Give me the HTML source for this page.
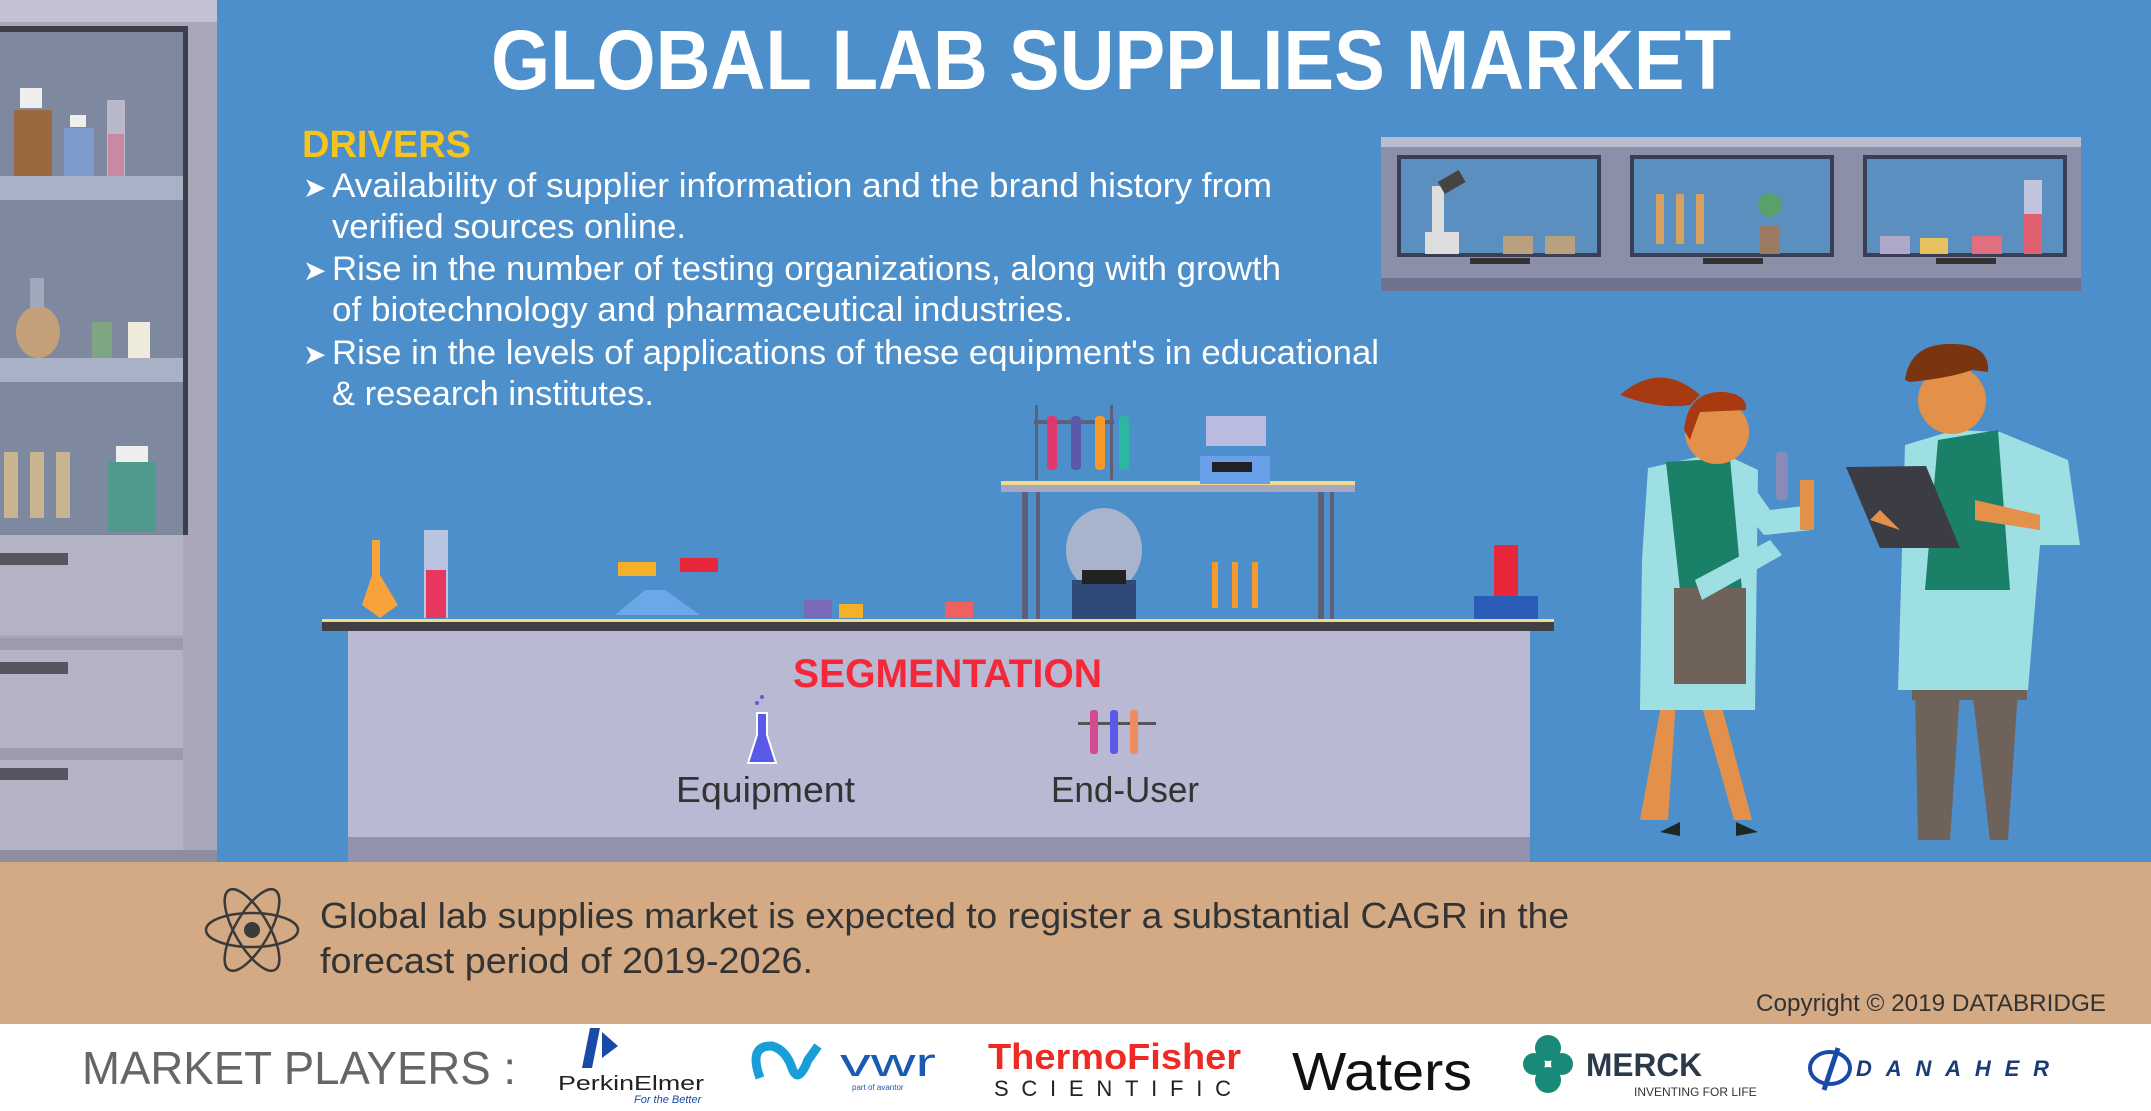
<!DOCTYPE html>
<html><head><meta charset="utf-8"><style>
html,body{margin:0;padding:0;width:2151px;height:1111px;overflow:hidden;background:#fff}
svg{display:block}
text{font-family:"Liberation Sans",sans-serif}
</style></head><body>
<svg width="2151" height="1111" viewBox="0 0 2151 1111" xmlns="http://www.w3.org/2000/svg">
<!-- background -->
<rect x="0" y="0" width="2151" height="862" fill="#4d8fcb"/>
<rect x="0" y="862" width="2151" height="162" fill="#d3aa84"/>
<rect x="0" y="1024" width="2151" height="87" fill="#ffffff"/>

<!-- cabinet -->
<rect x="0" y="0" width="217" height="862" fill="#a9a8bb"/>
<rect x="0" y="0" width="217" height="22" fill="#c3c2d2"/>
<rect x="0" y="26" width="188" height="6" fill="#3e3e48"/>
<rect x="0" y="32" width="183" height="503" fill="#7e889e"/>
<rect x="183" y="32" width="5" height="503" fill="#3e3e48"/>
<rect x="0" y="176" width="183" height="24" fill="#a8b1c6"/>
<rect x="0" y="358" width="183" height="24" fill="#a8b1c6"/>
<rect x="14" y="110" width="38" height="66" fill="#9a6a3e"/><rect x="20" y="88" width="22" height="20" fill="#eee"/>
<rect x="64" y="128" width="30" height="48" fill="#7d9ccc"/><rect x="70" y="115" width="16" height="12" fill="#eee"/>
<rect x="107" y="100" width="18" height="76" fill="#b8b8c8"/><rect x="108" y="134" width="16" height="42" fill="#c78aa0"/>
<ellipse cx="38" cy="332" rx="22" ry="26" fill="#c4a07a"/><rect x="30" y="278" width="14" height="30" fill="#a0a8bc"/>
<rect x="92" y="322" width="20" height="36" fill="#7fa583"/><rect x="128" y="322" width="22" height="36" fill="#eeeadc"/>
<rect x="4" y="452" width="14" height="66" fill="#c8b490"/><rect x="30" y="452" width="14" height="66" fill="#c8b490"/><rect x="56" y="452" width="14" height="66" fill="#c8b490"/>
<rect x="108" y="462" width="48" height="70" fill="#4f9a8c"/><rect x="116" y="446" width="32" height="16" fill="#eee"/>
<rect x="0" y="535" width="183" height="100" fill="#b4b3c4"/>
<rect x="0" y="638" width="183" height="12" fill="#9b9aae"/>
<rect x="0" y="650" width="183" height="98" fill="#b4b3c4"/>
<rect x="0" y="748" width="183" height="12" fill="#9b9aae"/>
<rect x="0" y="760" width="183" height="100" fill="#b4b3c4"/>
<rect x="0" y="553" width="68" height="12" fill="#55555f"/>
<rect x="0" y="662" width="68" height="12" fill="#55555f"/>
<rect x="0" y="768" width="68" height="12" fill="#55555f"/>
<rect x="0" y="850" width="217" height="12" fill="#8e8ea0"/>

<!-- title & drivers -->
<text x="491" y="89" font-size="84" font-weight="bold" fill="#fff" textLength="1240" lengthAdjust="spacingAndGlyphs">GLOBAL LAB SUPPLIES MARKET</text>
<text x="302" y="157" font-size="38" font-weight="bold" fill="#f7c31d" textLength="169" lengthAdjust="spacingAndGlyphs">DRIVERS</text>
<g fill="#fff" font-size="34">
<text x="303" y="197" font-size="28">&#10148;</text>
<text x="332" y="197" textLength="940" lengthAdjust="spacingAndGlyphs">Availability of supplier information and the brand history from</text>
<text x="332" y="238" textLength="354" lengthAdjust="spacingAndGlyphs">verified sources online.</text>
<text x="303" y="280" font-size="28">&#10148;</text>
<text x="332" y="280" textLength="949" lengthAdjust="spacingAndGlyphs">Rise in the number of testing organizations, along with growth</text>
<text x="332" y="321" textLength="741" lengthAdjust="spacingAndGlyphs">of biotechnology and pharmaceutical industries.</text>
<text x="303" y="364" font-size="28">&#10148;</text>
<text x="332" y="364" textLength="1047" lengthAdjust="spacingAndGlyphs">Rise in the levels of applications of these equipment's in educational</text>
<text x="332" y="405" textLength="322" lengthAdjust="spacingAndGlyphs">&amp; research institutes.</text>
</g>

<!-- top right shelf -->
<rect x="1381" y="137" width="700" height="154" fill="#8b8fa8"/>
<rect x="1381" y="137" width="700" height="10" fill="#b9bccd"/>
<rect x="1381" y="278" width="700" height="13" fill="#6f7390"/>
<g fill="#5b8fc0" stroke="#3a3f55" stroke-width="4">
<rect x="1399" y="157" width="200" height="98"/>
<rect x="1632" y="157" width="200" height="98"/>
<rect x="1865" y="157" width="200" height="98"/>
</g>
<rect x="1470" y="258" width="60" height="6" fill="#333"/><rect x="1703" y="258" width="60" height="6" fill="#333"/><rect x="1936" y="258" width="60" height="6" fill="#333"/>
<rect x="1425" y="232" width="34" height="22" fill="#ddd"/><rect x="1432" y="186" width="12" height="48" fill="#ddd"/><rect x="1440" y="176" width="24" height="14" fill="#444" transform="rotate(-30 1450 183)"/>
<rect x="1503" y="236" width="30" height="18" fill="#b8a080"/><rect x="1545" y="236" width="30" height="18" fill="#b8a080"/>
<rect x="1656" y="194" width="8" height="50" fill="#d8a060"/><rect x="1676" y="194" width="8" height="50" fill="#d8a060"/><rect x="1696" y="194" width="8" height="50" fill="#d8a060"/>
<rect x="1760" y="226" width="20" height="28" fill="#9a7a60"/><circle cx="1770" cy="205" r="12" fill="#5aa06a"/>
<rect x="1880" y="236" width="30" height="18" fill="#b0a8c8"/><rect x="1920" y="238" width="28" height="16" fill="#e8c060"/><rect x="1972" y="236" width="30" height="18" fill="#e07080"/>
<rect x="2024" y="180" width="18" height="74" fill="#c0c4dc"/><rect x="2024" y="214" width="18" height="40" fill="#e06070"/>

<!-- table top items -->
<rect x="1001" y="484" width="354" height="8" fill="#a6a6c0"/><rect x="1001" y="481" width="354" height="4" fill="#f1d98a"/>
<rect x="1022" y="492" width="6" height="128" fill="#5e6079"/><rect x="1318" y="492" width="6" height="128" fill="#5e6079"/>
<rect x="1036" y="492" width="4" height="128" fill="#5e6079"/><rect x="1330" y="492" width="4" height="128" fill="#5e6079"/>
<rect x="1034" y="420" width="80" height="4" fill="#5e6079"/><rect x="1035" y="405" width="3" height="75" fill="#5e6079"/><rect x="1110" y="405" width="3" height="75" fill="#5e6079"/>
<rect x="1047" y="416" width="10" height="54" fill="#e0386a" rx="4"/><rect x="1071" y="416" width="10" height="54" fill="#5a5aa8" rx="4"/><rect x="1095" y="416" width="10" height="54" fill="#f59a2a" rx="4"/><rect x="1119" y="416" width="10" height="54" fill="#2cb8a0" rx="4"/>
<rect x="1206" y="416" width="60" height="30" fill="#b9bbe0"/><rect x="1200" y="456" width="70" height="28" fill="#6aa0e8"/><rect x="1212" y="462" width="40" height="10" fill="#222"/>
<ellipse cx="1104" cy="550" rx="38" ry="42" fill="#a8b4cc"/><rect x="1072" y="580" width="64" height="40" fill="#2f4a78"/><rect x="1082" y="570" width="44" height="14" fill="#222"/>
<rect x="1212" y="562" width="6" height="46" fill="#f59a2a"/><rect x="1232" y="562" width="6" height="46" fill="#f59a2a"/><rect x="1252" y="562" width="6" height="46" fill="#f59a2a"/>
<path d="M372 540 L380 540 L380 575 L398 605 L380 618 L362 605 L372 575 Z" fill="#f7a23a"/>
<rect x="424" y="530" width="24" height="88" fill="#b8c4e0"/><rect x="426" y="570" width="20" height="48" fill="#e8375f"/>
<path d="M615 615 L645 590 L665 590 L700 615 Z" fill="#6aa8e8"/><rect x="617" y="572" width="110" height="6" fill="#4f8fd0" transform="rotate(-8 670 575)"/>
<rect x="618" y="562" width="38" height="14" fill="#f5b02a"/><rect x="680" y="558" width="38" height="14" fill="#e8283a"/>
<rect x="804" y="600" width="28" height="18" fill="#7a6ab8"/><rect x="839" y="604" width="24" height="14" fill="#f5b02a"/><rect x="945" y="602" width="28" height="16" fill="#f06060"/>
<rect x="1494" y="545" width="24" height="52" fill="#e8283a"/><rect x="1474" y="596" width="64" height="24" fill="#2a5cb8"/>

<!-- counter -->
<rect x="322" y="620" width="1232" height="11" fill="#3f3f44"/>
<rect x="322" y="619" width="1232" height="3" fill="#f1d98a"/>
<rect x="348" y="631" width="1182" height="231" fill="#b9b9d4"/>
<rect x="348" y="837" width="1182" height="25" fill="#9291ae"/>
<text x="793" y="687" font-size="40" font-weight="bold" fill="#f5283a" textLength="309" lengthAdjust="spacingAndGlyphs">SEGMENTATION</text>
<path d="M757 713 L767 713 L767 735 L776 763 L748 763 L757 735 Z" fill="#5a5ae8" stroke="#fff" stroke-width="2"/>
<circle cx="757" cy="703" r="2" fill="#5a5ae8"/><circle cx="762" cy="697" r="2" fill="#5a5ae8"/>
<rect x="1078" y="722" width="78" height="3" fill="#555"/>
<rect x="1090" y="710" width="8" height="44" fill="#d44a90" rx="3"/><rect x="1110" y="710" width="8" height="44" fill="#5a5ae8" rx="3"/><rect x="1130" y="710" width="8" height="44" fill="#f08a60" rx="3"/>
<text x="676" y="802" font-size="36" fill="#333" textLength="179" lengthAdjust="spacingAndGlyphs">Equipment</text>
<text x="1051" y="802" font-size="36" fill="#333" textLength="148" lengthAdjust="spacingAndGlyphs">End-User</text>

<!-- atom -->
<g fill="none" stroke="#3a3a3a" stroke-width="2.5">
<ellipse cx="252" cy="930" rx="46" ry="17"/>
<ellipse cx="252" cy="930" rx="46" ry="17" transform="rotate(60 252 930)"/>
<ellipse cx="252" cy="930" rx="46" ry="17" transform="rotate(-60 252 930)"/>
</g><circle cx="252" cy="930" r="8" fill="#3a3a3a"/>
<text x="320" y="928" font-size="36" fill="#333" textLength="1249" lengthAdjust="spacingAndGlyphs">Global lab supplies market is expected to register a substantial CAGR in the</text>
<text x="320" y="973" font-size="36" fill="#333" textLength="493" lengthAdjust="spacingAndGlyphs">forecast period of 2019-2026.</text>
<text x="1756" y="1011" font-size="24" fill="#333" textLength="350" lengthAdjust="spacingAndGlyphs">Copyright © 2019 DATABRIDGE</text>

<!-- woman -->
<path d="M1640 820 L1662 700 L1676 700 L1668 820 Z" fill="#e3914a"/>
<path d="M1700 700 L1720 700 L1752 820 L1734 820 Z" fill="#e3914a"/>
<path d="M1660 832 L1680 822 L1680 836 Z" fill="#1a2a22"/><path d="M1758 832 L1736 822 L1736 836 Z" fill="#1a2a22"/>
<path d="M1648 468 L1720 452 L1758 470 L1755 710 L1640 710 L1642 560 Z" fill="#9edfe3"/>
<path d="M1666 462 L1730 458 L1742 590 L1680 590 Z" fill="#1a8068"/>
<rect x="1674" y="588" width="72" height="96" fill="#6e625a"/>
<path d="M1742 470 L1770 510 L1812 505 L1812 530 L1764 535 L1735 500 Z" fill="#9edfe3"/>
<rect x="1800" y="480" width="14" height="50" fill="#e3914a"/>
<rect x="1776" y="452" width="12" height="48" fill="#8a8ab8" rx="4"/>
<path d="M1695 580 L1770 540 L1782 555 L1702 600 Z" fill="#9edfe3"/>
<circle cx="1717" cy="432" r="32" fill="#e3914a"/>
<path d="M1684 430 Q1688 390 1725 392 Q1748 395 1746 410 L1700 412 Q1693 430 1690 440 Z" fill="#a83a12"/>
<path d="M1700 395 Q1660 360 1620 395 Q1660 410 1690 405 Z" fill="#a83a12"/>

<!-- man -->
<path d="M1915 690 L1960 690 L1950 840 L1918 840 Z" fill="#6e625a"/>
<path d="M1972 690 L2018 690 L2008 840 L1990 840 Z" fill="#6e625a"/>
<rect x="1912" y="590" width="115" height="110" fill="#6e625a"/>
<path d="M1905 445 L1955 430 L2000 432 L2068 460 L2080 545 L2040 545 L2028 690 L1898 690 Z" fill="#9edfe3"/>
<path d="M1938 440 L1998 430 L2010 590 L1925 590 Z" fill="#1a8068"/>
<path d="M1846 467 L1926 466 L1960 548 L1880 548 Z" fill="#3c3c44"/>
<path d="M1880 510 L1870 520 L1900 530 Z" fill="#e3914a"/>
<path d="M1975 500 L2040 515 L2040 530 L1975 520 Z" fill="#e3914a"/>
<circle cx="1952" cy="400" r="34" fill="#e3914a"/>
<path d="M1905 380 Q1910 342 1955 344 Q1990 345 1988 372 L1972 370 Q1950 378 1910 382 Z" fill="#7a3510"/>

<!-- market players -->
<text x="82" y="1084" font-size="46" fill="#666" textLength="434" lengthAdjust="spacingAndGlyphs">MARKET PLAYERS :</text>
<path d="M590 1028 L600 1028 L592 1068 L582 1068 Z" fill="#1a4aa8"/><path d="M602 1032 L618 1046 L602 1058 Z" fill="#1a4aa8"/>
<text x="558" y="1090" font-size="20" fill="#222" textLength="146" lengthAdjust="spacingAndGlyphs">PerkinElmer</text>
<text x="634" y="1103" font-size="11" fill="#1a4aa8" font-style="italic">For the Better</text>
<path d="M760 1078 Q748 1045 772 1046 Q786 1050 792 1068 Q798 1085 808 1060 L818 1046" fill="none" stroke="#1a9ed8" stroke-width="9"/>
<text x="840" y="1076" font-size="40" fill="#1a5ab0" textLength="96" lengthAdjust="spacingAndGlyphs">vwr</text>
<text x="852" y="1090" font-size="8" fill="#1a5ab0">part of avantor</text>
<text x="988" y="1069" font-size="36" font-weight="bold" fill="#ee2a24" textLength="253" lengthAdjust="spacingAndGlyphs">ThermoFisher</text>
<text x="994" y="1096" font-size="22" fill="#222" letter-spacing="10" textLength="247" lengthAdjust="spacing">SCIENTIFIC</text>
<text x="1292" y="1090" font-size="54" fill="#111" textLength="180" lengthAdjust="spacingAndGlyphs">Waters</text>
<circle cx="1548" cy="1048" r="13" fill="#1a8a78"/><circle cx="1548" cy="1080" r="13" fill="#1a8a78"/><circle cx="1534" cy="1064" r="11" fill="#1a8a78"/><circle cx="1562" cy="1064" r="11" fill="#1a8a78"/>
<text x="1586" y="1076" font-size="32" font-weight="bold" fill="#2a3a4a" textLength="116" lengthAdjust="spacingAndGlyphs">MERCK</text>
<text x="1634" y="1096" font-size="12" fill="#333">INVENTING FOR LIFE</text>
<ellipse cx="1830" cy="1068" rx="20" ry="16" fill="none" stroke="#1a4aa8" stroke-width="4"/><path d="M1838 1048 L1824 1090" stroke="#1a4aa8" stroke-width="5"/>
<text x="1856" y="1076" font-size="22" font-weight="bold" font-style="italic" fill="#1a3a78" letter-spacing="5" textLength="198" lengthAdjust="spacing">DANAHER</text>
</svg>
</body></html>
